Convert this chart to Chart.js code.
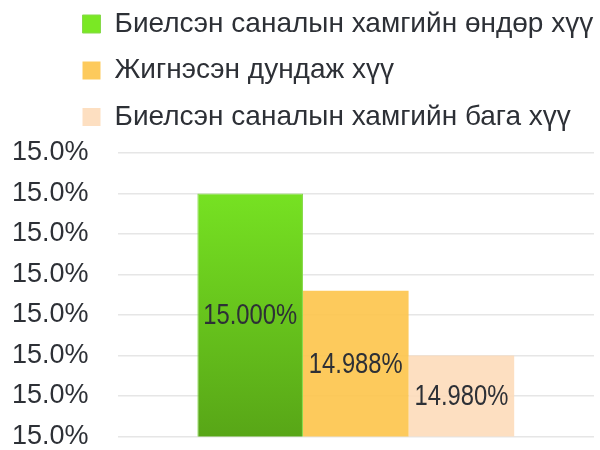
<!DOCTYPE html>
<html>
<head>
<meta charset="utf-8">
<script src="https://cdn.jsdelivr.net/npm/chart.js@4.4.1/dist/chart.umd.min.js"></script>
<style>
  html, body { margin: 0; padding: 0; background: #fff; }
  #wrap { width: 600px; height: 450px; }
</style>
</head>
<body>
<div id="wrap"><canvas id="chart" width="600" height="450"></canvas></div>
<script>
// data
const categories = [''];
const seriesNames = [
    'Биелсэн саналын хамгийн өндөр хүү',
    'Жигнэсэн дундаж хүү',
    'Биелсэн саналын хамгийн бага хүү'
];
const seriesValues = [15.000, 14.988, 14.980];
const yTickValues = [14.970, 14.975, 14.980, 14.985, 14.990, 14.995, 15.000, 15.005];

const TEXT_COLOR = '#2d3036';
const FONT = "'Liberation Sans', Arial, sans-serif";

function greenFill(ctx) {
    const area = ctx.chart.chartArea;
    if (!area) return '#6fd020';
    const g = ctx.chart.ctx.createLinearGradient(0, area.top, 0, area.bottom);
    g.addColorStop(0, '#7ae824');
    g.addColorStop(0.15, '#76e122');
    g.addColorStop(1, '#58a617');
    return g;
}

// legend drawn higher and further right than chart.js puts it
const legendShift = {
    id: 'legendShift',
    afterLayout(chart) {
        if (chart.legend) {
            chart.legend.left = 64;
            chart.legend.top = -8.5;
        }
    }
};

// value labels in the middle of each bar (narrow text like the original)
const barValues = {
    id: 'barValues',
    afterDatasetsDraw(chart) {
        const ctx = chart.ctx;
        const bottom = chart.chartArea.bottom;
        chart.data.datasets.forEach((ds, i) => {
            chart.getDatasetMeta(i).data.forEach((bar, j) => {
                const base = Math.min(bar.base, bottom); // base is off-axis, clamp it
                ctx.save();
                ctx.translate(bar.x, (bar.y + base) / 2 + 1);
                ctx.scale(0.82, 1);
                ctx.font = '29px ' + FONT;
                ctx.fillStyle = TEXT_COLOR;
                ctx.textAlign = 'center';
                ctx.textBaseline = 'middle';
                ctx.fillText(ds.data[j].toFixed(3) + '%', 0, 0);
                ctx.restore();
            });
        });
    }
};

new Chart(document.getElementById('chart'), {
    type: 'bar',
    data: {
        labels: categories,
        datasets: [
            {
                label: seriesNames[0],
                data: [seriesValues[0]],
                backgroundColor: greenFill,
                borderColor: '#86d94a',
                borderWidth: 1
            },
            {
                label: seriesNames[1],
                data: [seriesValues[1]],
                backgroundColor: 'rgba(253, 198, 78, 0.92)',
                borderWidth: 0
            },
            {
                label: seriesNames[2],
                data: [seriesValues[2]],
                backgroundColor: 'rgba(253, 220, 186, 0.9)',
                borderWidth: 0
            }
        ]
    },
    options: {
        responsive: false,
        animation: false,
        layout: {
            padding: { top: 3.5, left: 12, right: 6, bottom: 0 }
        },
        datasets: {
            bar: {
                categoryPercentage: 0.665,
                barPercentage: 1
            }
        },
        plugins: {
            legend: {
                position: 'top',
                align: 'start',
                labels: {
                    boxWidth: 18,
                    boxHeight: 18,
                    padding: 18.5,
                    color: TEXT_COLOR,
                    font: { family: FONT, size: 28 }
                }
            },
            tooltip: { enabled: false }
        },
        scales: {
            x: {
                display: false
            },
            y: {
                min: yTickValues[0],
                max: yTickValues[yTickValues.length - 1],
                afterBuildTicks: (axis) => {
                    axis.ticks = yTickValues.map(v => ({ value: v }));
                },
                border: { display: false },
                grid: {
                    color: '#e6e6e6',
                    lineWidth: 1.5,
                    drawTicks: true,
                    tickLength: 29,
                    tickColor: 'rgba(0,0,0,0)'
                },
                ticks: {
                    padding: 0,
                    color: TEXT_COLOR,
                    font: { family: FONT, size: 27, lineHeight: 1 },
                    callback: (v) => Number(v).toFixed(1) + '%'
                }
            }
        }
    },
    plugins: [legendShift, barValues]
});
</script>
</body>
</html>
